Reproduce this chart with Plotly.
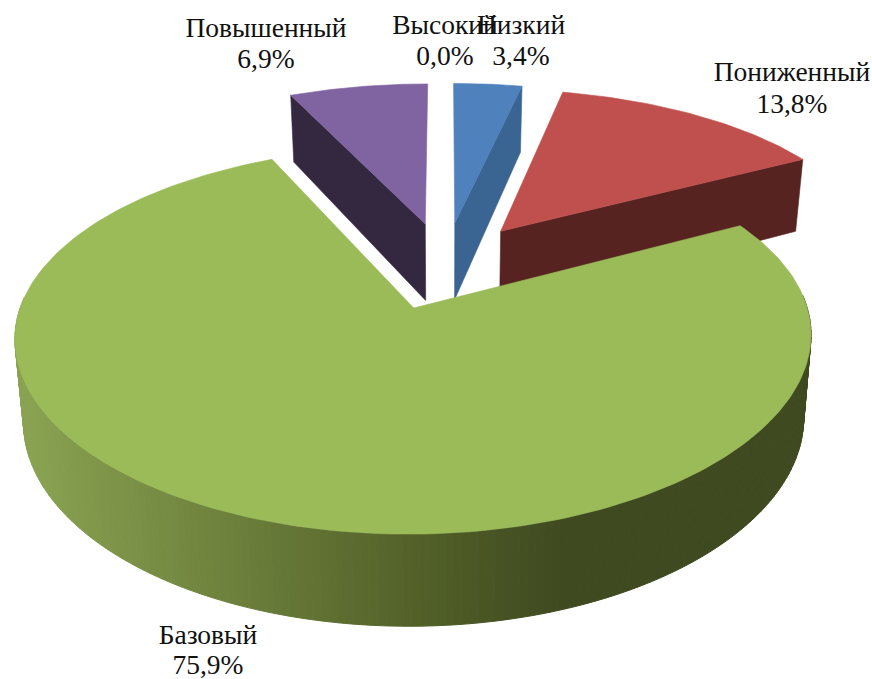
import math
import plotly.graph_objects as go

# Data, in drawing order clockwise from the top of the pie
categories = ["Низкий", "Пониженный", "Базовый", "Повышенный", "Высокий"]
shares = [3.4, 13.8, 75.9, 6.9, 0.0]

# Styles
top_colors = ["#4f81bd", "#c0504d", "#9bbb59", "#8064a2", "#4bacc6"]
wall_colors = ["#3a6491", "#572320", None, "#33283f", "#357d91"]
label_x = [521, 792, 208, 266, 445]
name_y = [27, 74, 637, 30, 27]
value_y = [58, 106, 667, 61, 58]
green_stops = [(20, (138, 163, 82)), (420, (82, 96, 40)), (560, (63, 74, 32)), (872, (63, 74, 32))]

# View of the pie (perspective projection of a tilted disc)
X0, Y0, R, A, P, PX = 445.0, 265.0, 380.0, 174.5, 0.16, 0.145
EXPLODE = 0.25
SHRINK = 0.98


def project(u, v):
    return X0 + R * u / (1 + PX * v), Y0 - A * v / (1 + P * v)


def project_low(u, v):
    x, y = project(u, v)
    return X0 + (x - X0) * SHRINK, y + 79 - 10.6 * v


def arc(start, end, n):
    return [start + (end - start) * i / n for i in range(n + 1)]


def poly(points, color, width=0.6):
    return go.Scatter(
        x=[p[0] for p in points] + [points[0][0]],
        y=[p[1] for p in points] + [points[0][1]],
        mode="lines", fill="toself", fillcolor=color,
        line=dict(color=color, width=width),
        hoverinfo="skip", showlegend=False,
    )


def shade(x):
    for (x1, c1), (x2, c2) in zip(green_stops, green_stops[1:]):
        if x <= x2:
            t = max(0.0, (x - x1) / (x2 - x1))
            return "rgb(%d,%d,%d)" % tuple(round(a + (b - a) * t) for a, b in zip(c1, c2))
    return "rgb(63,74,32)"


# Slice angles from the values
slices = []
acc = 0.0
for s in shares:
    a0, a1 = acc * 3.6, (acc + s) * 3.6
    acc += s
    mid = math.radians((a0 + a1) / 2)
    slices.append((math.radians(a0), math.radians(a1),
                   EXPLODE * math.sin(mid), EXPLODE * math.cos(mid)))


def rim(i, t):
    _, _, cu, cv = slices[i]
    return cu + math.sin(t), cv + math.cos(t)


traces = []
# Back slices first, the large slice last; each shows one radial wall
for i, wall_edge in [(3, 0), (0, 1), (1, 1)]:
    a0, a1, cu, cv = slices[i]
    ou, ov = rim(i, a1 if wall_edge else a0)
    traces.append(poly([project(cu, cv), project(ou, ov),
                        project_low(ou, ov), project_low(cu, cv)], wall_colors[i]))
    pts = [project(cu, cv)] + [project(*rim(i, t)) for t in arc(a0, a1, 40)]
    traces.append(poly(pts, top_colors[i]))

# Large slice: shaded rim, then its top
i = 2
a0, a1, cu, cv = slices[i]
ts = arc(a0, a1, 260)
for t0, t1 in zip(ts, ts[1:]):
    u0, v0 = rim(i, t0)
    u1, v1 = rim(i, t1)
    if min(v0, v1) > cv + 0.05:
        continue
    xm = (project(u0, v0)[0] + project(u1, v1)[0]) / 2
    traces.append(poly([project(u0, v0), project(u1, v1),
                        project_low(u1, v1), project_low(u0, v0)], shade(xm), 1))
pts = [project(cu, cv)] + [project(*rim(i, t)) for t in arc(a0, a1, 240)]
traces.append(poly(pts, top_colors[i]))

# Labels: name row and value row
label_font = dict(family="Liberation Serif", size=27.5, color="#111111")
traces.append(go.Scatter(
    x=label_x, y=name_y, text=categories, mode="text", textposition="middle center",
    textfont=label_font, hoverinfo="skip", showlegend=False, cliponaxis=False,
))
traces.append(go.Scatter(
    x=label_x, y=value_y, text=[f"{s:.1f}%".replace(".", ",") for s in shares],
    mode="text", textposition="middle center",
    textfont=label_font, hoverinfo="skip", showlegend=False, cliponaxis=False,
))

fig = go.Figure(traces)
fig.update_layout(
    width=872, height=679, margin=dict(l=0, r=0, t=0, b=0),
    paper_bgcolor="white", plot_bgcolor="white", showlegend=False,
    xaxis=dict(range=[0, 872], visible=False, fixedrange=True),
    yaxis=dict(range=[679, 0], visible=False, fixedrange=True),
)
fig.write_html("out.html", config={"displayModeBar": False},
               post_script="document.body.style.margin='0';document.body.style.overflow='hidden';")
